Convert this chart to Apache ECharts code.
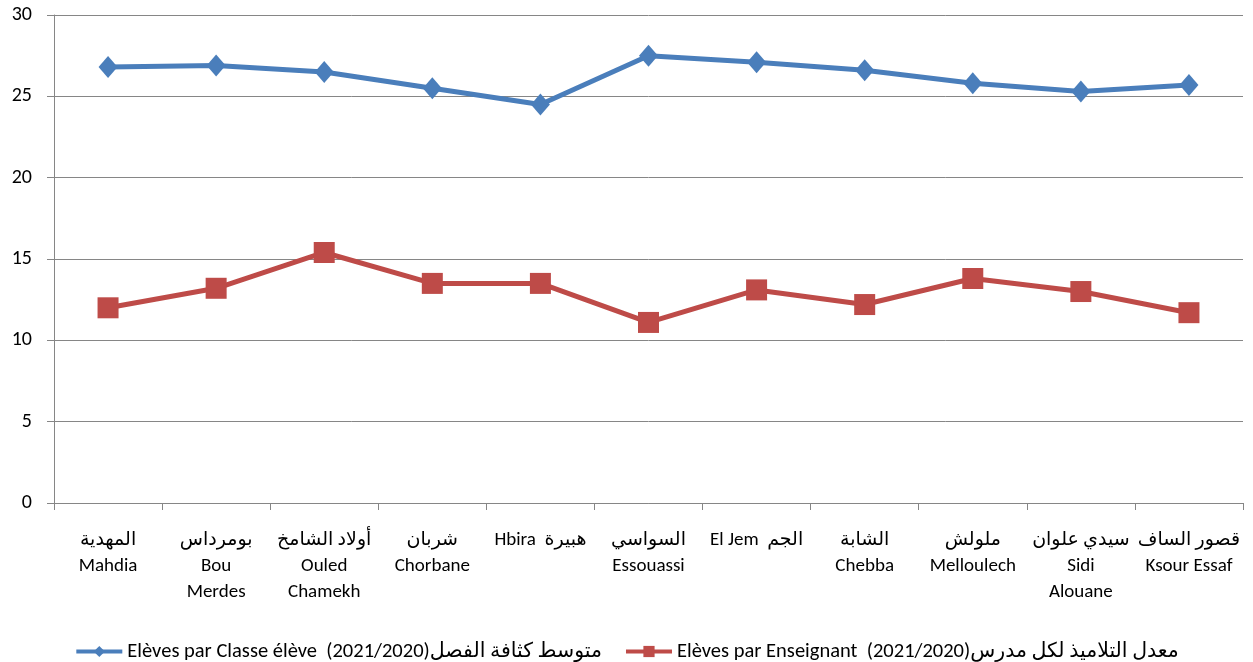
<!DOCTYPE html>
<html>
<head>
<meta charset="utf-8">
<script src="https://cdn.jsdelivr.net/npm/echarts@6/dist/echarts.min.js"></script>
<style>
  html, body { margin: 0; padding: 0; background: #fff; }
  #main { width: 1253px; height: 662px; }
</style>
</head>
<body>
<div id="main"></div>
<script>
// catégories (délégations)
var categories = [
  'المهدية\nMahdia',
  'بومرداس\nBou\nMerdes',
  'أولاد الشامخ\nOuled\nChamekh',
  'شربان\nChorbane',
  'Hbira  هبيرة',
  'السواسي\nEssouassi',
  'El Jem  الجم',
  'الشابة\nChebba',
  'ملولش\nMelloulech',
  'سيدي علوان\nSidi\nAlouane',
  'قصور الساف\nKsour Essaf'
];
var seriesNames = [
  'Elèves par Classe élève  (2021/2020)متوسط كثافة الفصل',
  'Elèves par Enseignant  (2021/2020)معدل التلاميذ لكل مدرس'
];
var parClasse = [26.8, 26.9, 26.5, 25.5, 24.5, 27.5, 27.1, 26.6, 25.8, 25.3, 25.7];
var parEnseignant = [12.0, 13.2, 15.4, 13.5, 13.5, 11.1, 13.1, 12.2, 13.8, 13.0, 11.7];
var yTicks = { min: 0, max: 30, interval: 5 };

var font = "Carlito, 'Liberation Sans', 'DejaVu Sans', sans-serif";
var myChart = echarts.init(document.getElementById('main'));
var option = {
  animation: false,
  textStyle: { fontFamily: font },
  grid: { left: 54, right: 10, top: 15, bottom: 159 },
  legend: {
    top: 636,
    left: 'center',
    itemWidth: 46,
    itemHeight: 14,
    itemGap: 22,
    lineStyle: { width: 4 },
    textStyle: { fontSize: 20.5, color: '#000', fontFamily: font },
    data: seriesNames
  },
  xAxis: {
    type: 'category',
    data: categories,
    boundaryGap: true,
    axisLine: { lineStyle: { color: '#868686', width: 1 } },
    axisTick: { show: true, length: 7, lineStyle: { color: '#868686' } },
    axisLabel: {
      interval: 0,
      margin: 24,
      fontSize: 19,
      lineHeight: 26,
      color: '#000',
      fontFamily: font
    }
  },
  yAxis: {
    type: 'value',
    min: yTicks.min,
    max: yTicks.max,
    interval: yTicks.interval,
    axisLine: { show: true, lineStyle: { color: '#868686', width: 1 } },
    axisTick: { show: true, length: 7, lineStyle: { color: '#868686' } },
    splitLine: { lineStyle: { color: '#868686', width: 1 } },
    axisLabel: { fontSize: 20, color: '#000', margin: 22, fontFamily: font }
  },
  series: [
    {
      name: seriesNames[0],
      type: 'line',
      data: parClasse,
      symbol: 'diamond',
      symbolSize: [19, 22],
      lineStyle: { color: '#4a7ebb', width: 5 },
      itemStyle: { color: '#4a7ebb' }
    },
    {
      name: seriesNames[1],
      type: 'line',
      data: parEnseignant,
      symbol: 'rect',
      symbolSize: 21,
      lineStyle: { color: '#be4b48', width: 5 },
      itemStyle: { color: '#be4b48' }
    }
  ]
};
myChart.setOption(option);
</script>
</body>
</html>
